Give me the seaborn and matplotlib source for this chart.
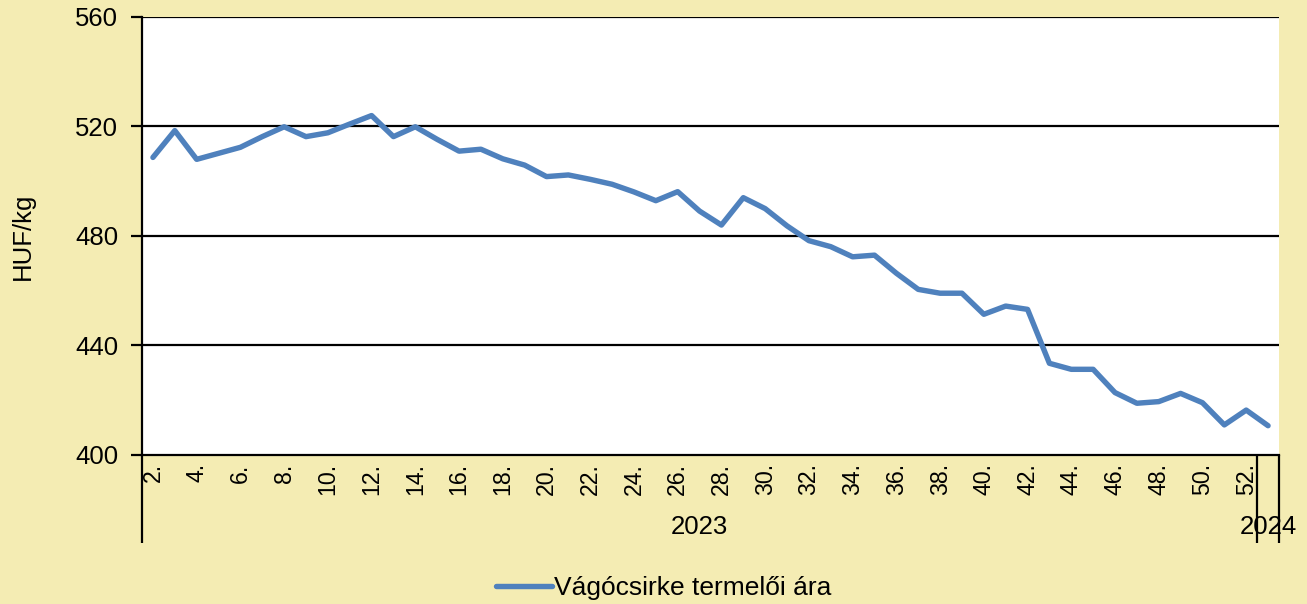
import matplotlib
matplotlib.use("Agg")
import matplotlib.pyplot as plt
import matplotlib.transforms as mtransforms
import seaborn as sns
import pandas as pd
import numpy as np

# ---- data ----
years = [2023] * 51 + [2024]
weeks = list(range(2, 53)) + [1]
prices = [508.7, 518.5, 508.0, 510.2, 512.4, 516.3, 519.9, 516.3, 517.7, 520.9,
          524.0, 516.3, 519.9, 515.3, 511.0, 511.7, 508.2, 505.9, 501.7, 502.3,
          500.7, 498.9, 496.1, 492.9, 496.2, 489.1, 484.0, 494.0, 490.0, 483.7,
          478.3, 476.1, 472.4, 473.0, 466.4, 460.5, 459.1, 459.1, 451.4, 454.4,
          453.2, 433.5, 431.3, 431.3, 422.8, 418.9, 419.5, 422.5, 419.1, 411.0,
          416.4, 410.7]
series_name = "Vágócsirke termelői ára"
y_ticks = [400, 440, 480, 520, 560]
y_label = "HUF/kg"

df = pd.DataFrame({"pos": np.arange(len(prices)), "year": years,
                   "week": weeks, "price": prices, "series": series_name})

BG = "#F4ECB3"
LINE = "#4F81BD"

sns.set_theme(style="white")
plt.rcParams["font.family"] = ["Liberation Sans", "DejaVu Sans"]
plt.rcParams["text.color"] = "black"
plt.rcParams["xtick.color"] = "black"
plt.rcParams["ytick.color"] = "black"
plt.rcParams["axes.labelcolor"] = "black"

fig = plt.figure(figsize=(13.07, 6.04), dpi=100, facecolor=BG)
ax = fig.add_axes([142/1307, 1-455/604, (1279-142)/1307, (455-17)/604])
ax.set_facecolor("white")

sns.lineplot(data=df, x="pos", y="price", hue="series", palette=[LINE],
             linewidth=3.9, ax=ax, legend=True)

n = len(prices)
ax.set_xlim(-0.5, n - 0.5)
ax.set_ylim(y_ticks[0], y_ticks[-1])
ax.set_yticks(y_ticks)
ax.set_yticklabels([str(v) for v in y_ticks], fontsize=18.5)
ax.tick_params(axis="y", direction="out", length=8, width=1.6, color="black",
               pad=9, left=True, labelcolor="black")

# x tick labels: every second week of 2023
xt = [i for i in range(n) if years[i] == 2023 and weeks[i] % 2 == 0]
ax.set_xticks(xt)
ax.set_xticklabels([f"{weeks[i]}." for i in xt], rotation=90, fontsize=16.7,
                   va="top", ha="center")
ax.tick_params(axis="x", length=0, pad=6, labelcolor="black")

ax.set_xlabel("")
ax.set_ylabel(y_label, fontsize=18.5, color="black")
ax.yaxis.label.set_va("center")
ax.yaxis.set_label_coords((23 - 142) / 1137, 0.5)

for yv in y_ticks[1:]:
    ax.axhline(yv, color="black", lw=1.6, zorder=1)
for s in ["right", "top"]:
    ax.spines[s].set_visible(False)
ax.spines["left"].set_color("black")
ax.spines["left"].set_linewidth(1.6)
ax.spines["bottom"].set_color("black")
ax.spines["bottom"].set_linewidth(1.6)

# second-level category axis (years)
trans = mtransforms.blended_transform_factory(ax.transData, ax.transAxes)
ext = -88 / 438
uyears = sorted(set(years))
bounds = [-0.5]
for yv in uyears:
    idx = [i for i in range(n) if years[i] == yv]
    bounds.append(idx[-1] + 0.5)
    ax.text((idx[0] + idx[-1]) / 2, -0.165, str(yv), transform=trans,
            ha="center", va="center", fontsize=18.5, clip_on=False,
            color="black")
for b in bounds:
    ax.plot([b, b], [0, ext], transform=trans, color="black", lw=1.6,
            clip_on=False, solid_capstyle="butt")

# legend
leg = ax.get_legend()
handles, labels = ax.get_legend_handles_labels()
leg.remove()
fig.legend(handles, labels, loc="center", bbox_to_anchor=(0.508, 0.026),
           frameon=False, fontsize=19, handlelength=2.1, handletextpad=0.1,
           labelcolor="black")

fig.savefig("out.png", dpi=100, facecolor=BG)
